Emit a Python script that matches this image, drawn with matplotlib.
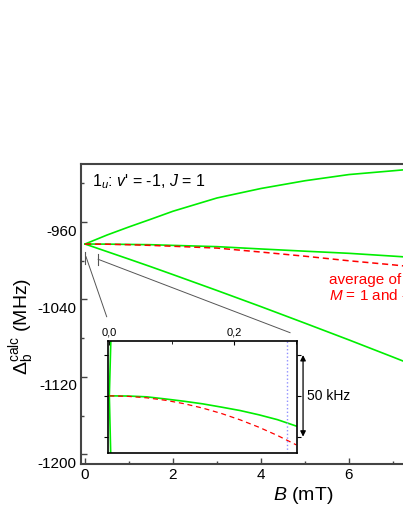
import matplotlib
matplotlib.use('Agg')
import matplotlib.pyplot as plt
import matplotlib.transforms as mtransforms
from matplotlib.ticker import FixedLocator

plt.rcParams['font.family'] = ['Liberation Sans', 'DejaVu Sans']
plt.rcParams['mathtext.fontset'] = 'custom'
plt.rcParams['mathtext.rm'] = 'Liberation Sans'
plt.rcParams['mathtext.it'] = 'Liberation Sans:italic'
plt.rcParams['axes.unicode_minus'] = False

# main panel: B in mT, Delta in MHz
B = [0, 0.5, 1, 1.5, 2, 3, 4, 5, 6, 7, 7.5]
upper = [-982.7, -973.4, -965.0, -957.0, -948.8, -935.1, -925.3, -917.3, -910.9, -907.0, -905.0]
middle = [-982.7, -982.8, -983.1, -983.4, -984.1, -985.4, -987.8, -990.1, -992.3, -995.2, -996.7]
lower = [-982.7, -990.5, -998.3, -1006.2, -1014.3, -1030.7, -1047.4, -1064.5, -1081.8, -1099.5, -1108.5]
average = [-982.7, -982.9, -983.4, -984.1, -985.0, -986.9, -991.0, -995.3, -1000.0, -1004.2, -1006.5]

# inset: B in mT, shift in kHz relative to B = 0
B_in = [0, 0.03, 0.06, 0.09, 0.12, 0.15, 0.18, 0.21, 0.24, 0.27, 0.30]
middle_in = [0, -0.1, -0.6, -1.9, -3.3, -4.9, -6.9, -9.0, -11.6, -14.6, -18.5]
average_in = [0, -0.3, -1.2, -2.7, -4.8, -7.5, -10.8, -14.7, -19.2, -24.3, -30.0]
B_steep = [0, 0.003]
upper_in = [0, 42]
lower_in = [0, -48]

green = '#00ee00'
red = '#ff0000'
grey = '#444444'

fig = plt.figure(figsize=(4.03, 5.21), dpi=100)
ax = fig.add_axes([81/403, 57/521, 444/403, 300/521])

ax.plot(B, upper, color=green, lw=1.2)
ax.plot(B, middle, color=green, lw=1.2)
ax.plot(B, lower, color=green, lw=1.2)
ax.plot(B, average, color=red, lw=1.1, ls=(0, (4, 2.5)))

ax.set_xlim(-0.0909, 10)
ax.set_ylim(-1210, -900)
ax.xaxis.set_major_locator(FixedLocator([0, 2, 4, 6]))
ax.xaxis.set_minor_locator(FixedLocator([1, 3, 5, 7]))
ax.yaxis.set_major_locator(FixedLocator([-1200, -1120, -1040, -960]))
ax.yaxis.set_minor_locator(FixedLocator([-1160, -1080, -1000, -920]))
ax.tick_params(which='both', direction='in', color=grey, labelsize=11, pad=3, width=1.0)
ax.tick_params(which='major', length=4)
ax.tick_params(which='minor', length=2.5)
for s in ax.spines.values():
    s.set_color(grey)
    s.set_linewidth(1.5)

# Origin-style tick labels sit a bit lower than their ticks
off = mtransforms.ScaledTranslation(0, -8/100, fig.dpi_scale_trans)
for lab in ax.get_yticklabels():
    lab.set_transform(lab.get_transform() + off)

ax.set_xlabel('$B$ (mT)', fontsize=14, labelpad=2)
fig.text(22/403, 1 - 326/521, r'$\Delta_\mathrm{b}^\mathrm{calc}$ (MHz)', rotation=90,
         ha='center', va='center', fontsize=14)

ax.text(0.15, -918.6, "1$_u$: $v$' = -1, $J$ = 1", fontsize=11.5, va='center')
ax.text(5.545, -1019.5, 'average of', color=red, fontsize=11, va='center')
ax.text(5.545, -1036, '$M$ = 1 and -1', color=red, fontsize=11, va='center')

# range markers and connector lines to the inset
ax.plot([0.0, 0.0], [-991, -1003], color='#555555', lw=0.8)
ax.plot([0.3, 0.3], [-993, -1004], color='#555555', lw=0.8)
ax.plot([0.023, 0.493], [-995.8, -1057.8], color='#555555', lw=0.7)
ax.plot([0.3, 4.66], [-998.5, -1074.3], color='#555555', lw=0.7)

# inset
axi = fig.add_axes([107.7/403, 67.7/521, 189/403, 112.6/521])
axi.plot(B_steep, upper_in, color=green, lw=1.2)
axi.plot(B_steep, lower_in, color=green, lw=1.2)
axi.plot(B_in, middle_in, color=green, lw=1.2)
axi.plot(B_in, average_in, color=red, lw=0.9, ls=(0, (4, 3)))
axi.axvline(0.286, color='#8f8fff', lw=1.0, ls=':')
axi.set_xlim(-0.0026, 0.3008)
axi.set_ylim(-35.2, 33.8)
for s in axi.spines.values():
    s.set_color('black')
    s.set_linewidth(1.2)

axi.xaxis.tick_top()
axi.xaxis.set_major_locator(FixedLocator([0.0, 0.2]))
axi.xaxis.set_minor_locator(FixedLocator([0.1, 0.3]))
axi.set_xticklabels(['0,0', '0,2'])
axi.tick_params(axis='x', which='both', direction='in', top=True, bottom=False,
                labeltop=True, labelbottom=False, labelsize=8, pad=2, length=3)
axi.tick_params(axis='x', which='minor', length=2)
axi.yaxis.set_major_locator(FixedLocator([-25, 0, 25]))
axi.tick_params(axis='y', which='both', direction='out', left=True, right=True,
                labelleft=False, labelright=False, length=3)

axi.annotate('', xy=(0.311, 25), xytext=(0.311, -25),
             arrowprops=dict(arrowstyle='<|-|>', color='black', lw=0.9,
                             mutation_scale=8, shrinkA=0, shrinkB=0),
             annotation_clip=False)
axi.text(0.3175, 0, '50 kHz', fontsize=10, va='center', ha='left', clip_on=False)

fig.savefig('out.png', dpi=100)
